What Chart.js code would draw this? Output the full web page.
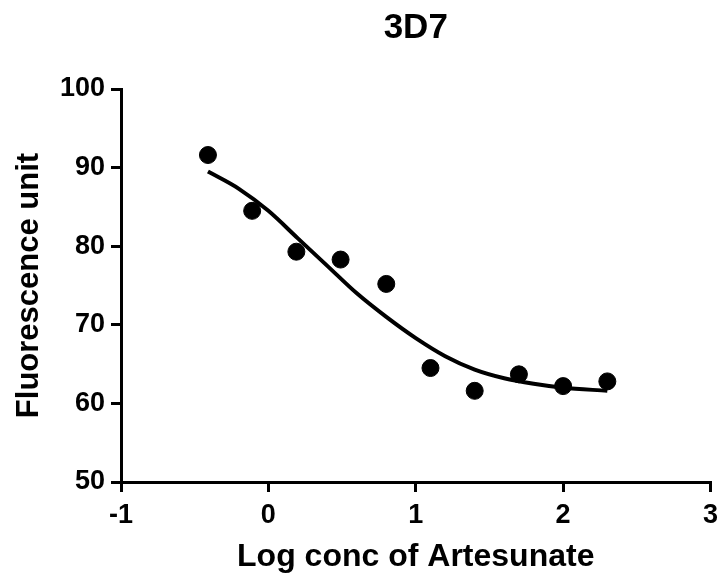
<!DOCTYPE html>
<html>
<head>
<meta charset="utf-8">
<script src="https://cdn.jsdelivr.net/npm/chart.js@4/dist/chart.umd.min.js"></script>
<style>
    body { margin: 0; background: #fff; }
    canvas { display: block; }
</style>
</head>
<body>
<canvas id="doseChart" width="725" height="577"></canvas>
<script>
// measured points (log conc vs fluorescence)
const logConc = [-0.41, -0.11, 0.19, 0.49, 0.80, 1.10, 1.40, 1.70, 2.00, 2.30];
const fluorescence = [91.6, 84.5, 79.3, 78.3, 75.2, 64.5, 61.6, 63.7, 62.2, 62.8];

// fitted curve
const fitX = [-0.41, -0.2, 0, 0.2, 0.4, 0.6, 0.8, 1.0, 1.2, 1.4, 1.6, 1.8, 2.0, 2.3];
const fitY = [89.5, 87.3, 84.5, 81.0, 77.5, 74.0, 71.0, 68.3, 66.0, 64.3, 63.2, 62.5, 62.0, 61.6];

const xTicks = [-1, 0, 1, 2, 3];
const yTicks = [50, 60, 70, 80, 90, 100];

const fontFamily = "'Liberation Sans', Arial, sans-serif";

const ctx = document.getElementById('doseChart').getContext('2d');
new Chart(ctx, {
    type: 'scatter',
    data: {
        datasets: [{
            data: logConc.map((x, i) => ({ x: x, y: fluorescence[i] })),
            backgroundColor: '#000',
            borderColor: '#000',
            pointRadius: 8.5,
            pointHoverRadius: 8.5
        }, {
            data: fitX.map((x, i) => ({ x: x, y: fitY[i] })),
            showLine: true,
            borderColor: '#000',
            borderWidth: 4,
            pointRadius: 0,
            cubicInterpolationMode: 'monotone',
            fill: false
        }]
    },
    options: {
        responsive: false,
        animation: false,
        layout: {
            padding: { top: 0, right: 12, bottom: 0, left: 0 }
        },
        plugins: {
            legend: { display: false },
            tooltip: { enabled: false },
            title: {
                display: true,
                text: '3D7',
                fullSize: false,
                color: '#000',
                font: { family: fontFamily, size: 35, weight: 'bold' },
                padding: { top: 7, bottom: 40 }
            }
        },
        scales: {
            x: {
                type: 'linear',
                min: xTicks[0],
                max: xTicks[xTicks.length - 1],
                afterBuildTicks: (scale) => { scale.ticks = xTicks.map(v => ({ value: v })); },
                afterFit: (scale) => { scale.height = 95; },
                border: { color: '#000', width: 3 },
                grid: {
                    drawOnChartArea: false,
                    drawTicks: true,
                    tickLength: 10,
                    color: '#000',
                    lineWidth: 3
                },
                ticks: {
                    color: '#000',
                    padding: 7,
                    font: { family: fontFamily, size: 27, weight: 'bold' }
                },
                title: {
                    display: true,
                    text: 'Log conc of Artesunate',
                    color: '#000',
                    font: { family: fontFamily, size: 32, weight: 'bold' },
                    padding: { top: 0, bottom: 1 }
                }
            },
            y: {
                type: 'linear',
                min: yTicks[0],
                max: yTicks[yTicks.length - 1],
                afterBuildTicks: (scale) => { scale.ticks = yTicks.map(v => ({ value: v })); },
                afterFit: (scale) => { scale.width = 121; },
                border: { color: '#000', width: 3 },
                grid: {
                    drawOnChartArea: false,
                    drawTicks: true,
                    tickLength: 10,
                    color: '#000',
                    lineWidth: 3
                },
                ticks: {
                    color: '#000',
                    padding: 6,
                    font: { family: fontFamily, size: 27, weight: 'bold' }
                },
                title: {
                    display: true,
                    text: 'Fluorescence unit',
                    color: '#000',
                    font: { family: fontFamily, size: 31, weight: 'bold' },
                    padding: { top: 11, bottom: 0 }
                }
            }
        }
    }
});
</script>
</body>
</html>
